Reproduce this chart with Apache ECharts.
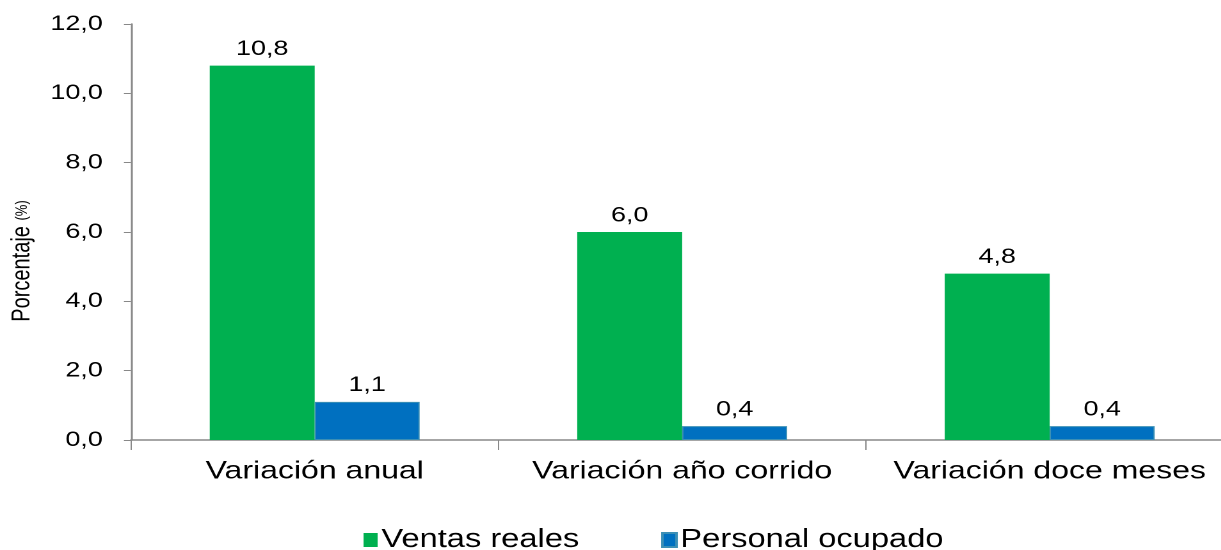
<!DOCTYPE html>
<html><head><meta charset="utf-8">
<script src="https://cdn.jsdelivr.net/npm/echarts@6/dist/echarts.min.js"></script>
<style>
html,body{margin:0;padding:0;background:#fff;overflow:hidden}
#wrap{width:1221px;height:550px;overflow:hidden;position:relative}
#c{width:964px;height:550px;transform:scaleX(1.28);transform-origin:0 0}
</style>
</head><body><div id="wrap"><div id="c"></div></div>
<script>
const categories = ['Variación anual', 'Variación año corrido', 'Variación doce meses'];
const ventasReales = [10.8, 6.0, 4.8];
const personalOcupado = [1.1, 0.4, 0.4];
const seriesNames = ['Ventas reales', 'Personal ocupado'];
const yTicks = { min: 0, max: 12, interval: 2 };
const yAxisTitle = 'Porcentaje';
const yAxisUnit = '(%)';

const fmt = v => v.toFixed(1).replace('.', ',');
const chart = echarts.init(document.getElementById('c'), null, { devicePixelRatio: 2 });
const font = '"Liberation Sans", Arial, sans-serif';
const narrow = '"Liberation Sans Narrow", "Liberation Sans", sans-serif';
chart.setOption({
  animation: false,
  grid: { left: 102.3, right: 0.4, top: 24, bottom: 110, containLabel: false },
  legend: {
    data: seriesNames, left: 279, top: 522, itemGap: 64,
    itemWidth: 11, itemHeight: 14, icon: 'rect',
    textStyle: { fontFamily: font, fontSize: 25.5, color: '#000', padding: [0,0,0,-2] }
  },
  graphic: [{
    type: 'text', x: 17.5, y: 261, rotation: Math.PI / 2,
    style: {
      text: '{a|' + yAxisTitle + ' }{b|' + yAxisUnit + '}',
      align: 'center', verticalAlign: 'middle',
      rich: {
        a: { fontFamily: narrow, fontSize: 20, fill: '#000' },
        b: { fontFamily: narrow, fontSize: 13, fill: '#000' }
      }
    }
  }],
  xAxis: {
    type: 'category', data: categories,
    axisLine: { lineStyle: { color: '#888', width: 1.5 } },
    axisTick: { show: true, length: 10, lineStyle: { color: '#888' } },
    axisLabel: { interval: 0, fontFamily: font, fontSize: 25, color: '#000', margin: 19 }
  },
  yAxis: {
    type: 'value', min: yTicks.min, max: yTicks.max, interval: yTicks.interval,
    splitLine: { show: false },
    axisLine: { show: true, lineStyle: { color: '#888', width: 1.5 } },
    axisTick: { show: true, length: 5.5, lineStyle: { color: '#888' } },
    axisLabel: { fontFamily: font, fontSize: 21, color: '#000', margin: 22, formatter: v => fmt(v) }
  },
  series: [
    { name: seriesNames[0], type: 'bar', data: ventasReales, barWidth: 82, barGap: '0%',
      itemStyle: { color: '#00B050' },
      label: { show: true, position: 'top', distance: 6, fontFamily: font, fontSize: 21, color: '#000', formatter: p => fmt(p.value) } },
    { name: seriesNames[1], type: 'bar', data: personalOcupado, barWidth: 82,
      itemStyle: { color: '#0070C0', borderColor: '#3b8fb5', borderWidth: 1 },
      label: { show: true, position: 'top', distance: 6, fontFamily: font, fontSize: 21, color: '#000', formatter: p => fmt(p.value) } }
  ]
});
</script></body></html>
